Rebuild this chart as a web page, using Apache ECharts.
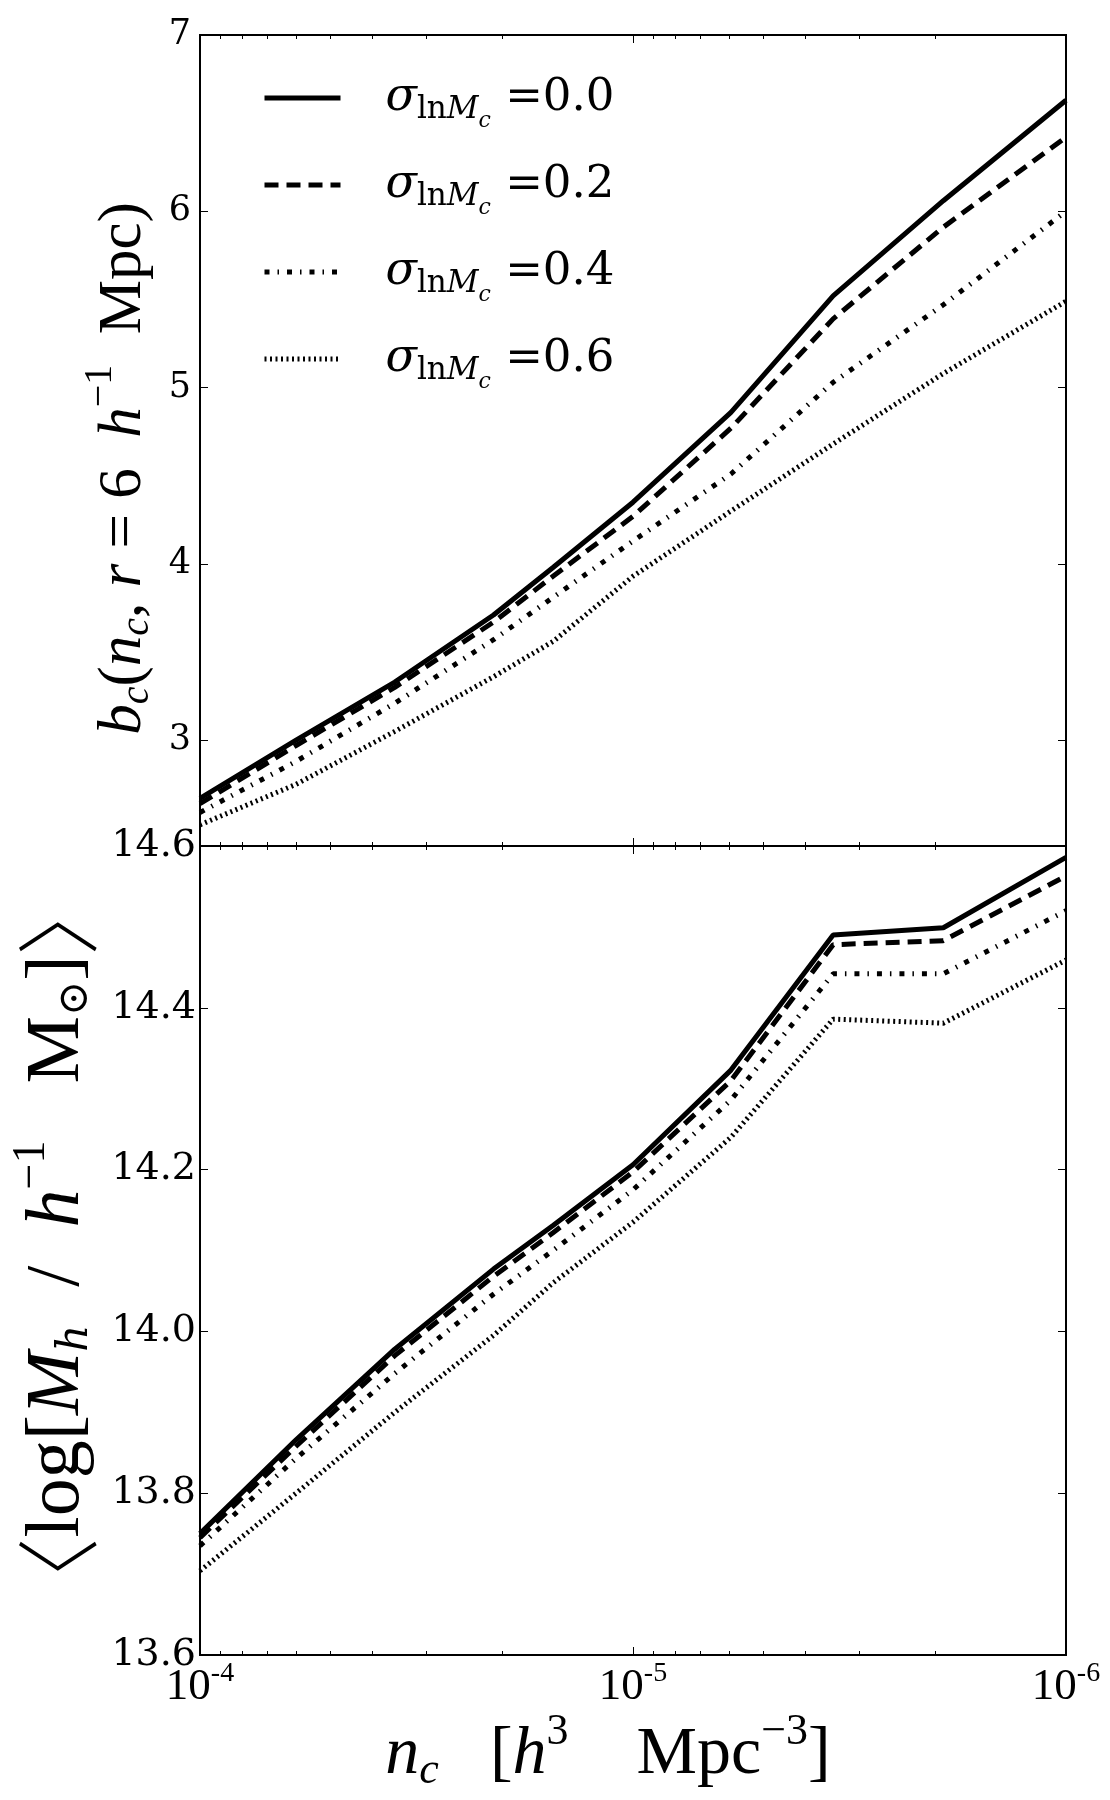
<!DOCTYPE html>
<html>
<head>
<meta charset="utf-8">
<script src="https://cdn.jsdelivr.net/npm/echarts@6/dist/echarts.min.js"></script>
<style>
  html, body { margin: 0; padding: 0; background: #fff; }
  #main { width: 1110px; height: 1800px; }
</style>
</head>
<body>
<div id="main"></div>
<script>
// number density of clusters, h^3 Mpc^-3
var nc = [1e-4, 6.0e-5, 3.55e-5, 2.1e-5, 1.53e-5, 1.0e-5, 5.94e-6, 3.45e-6, 1.92e-6, 1e-6]

// top panel: bias b_c
var bias00 = [2.67, 3.00, 3.33, 3.71, 3.98, 4.35, 4.86, 5.52, 6.06, 6.63]
var bias02 = [2.64, 2.97, 3.30, 3.67, 3.93, 4.27, 4.77, 5.39, 5.91, 6.42]
var bias04 = [2.59, 2.88, 3.21, 3.57, 3.81, 4.13, 4.51, 5.03, 5.47, 6.00]
var bias06 = [2.52, 2.75, 3.05, 3.36, 3.56, 3.93, 4.30, 4.68, 5.08, 5.49]

// bottom panel: mean log halo mass
var mass00 = [13.750, 13.866, 13.978, 14.077, 14.131, 14.206, 14.323, 14.490, 14.499, 14.586]
var mass02 = [13.745, 13.858, 13.970, 14.068, 14.122, 14.197, 14.310, 14.478, 14.483, 14.563]
var mass04 = [13.735, 13.843, 13.948, 14.046, 14.100, 14.175, 14.286, 14.442, 14.442, 14.520]
var mass06 = [13.704, 13.800, 13.900, 13.995, 14.060, 14.135, 14.240, 14.386, 14.381, 14.459]

var sigmaNames = ['0.0', '0.2', '0.4', '0.6']
var majorX = [1e-6, 1e-5, 1e-4]
var biasTicks = [3, 4, 5, 6, 7]
var massTicks = [13.6, 13.8, 14.0, 14.2, 14.4, 14.6]

var minorX = []
for (var d = -6; d < -4; d++) {
  for (var k = 2; k < 10; k++) {
    minorX.push(k * Math.pow(10, d))
  }
}

var serif = 'Liberation Serif'
var dejavu = 'DejaVu Serif'
var black = '#000'

var lineStyles = [
  { width: 5, type: 'solid' },
  { width: 5, type: [14, 8] },
  { width: 5, type: [5, 8, 1.5, 8] },
  { width: 5, type: [2, 3.5] }
]

function pairs(ys) {
  var out = []
  for (var i = 0; i < nc.length; i++) {
    out.push([nc[i], ys[i]])
  }
  return out
}

function xAxisOf(grid, position, ticks, tickLen, withLabel) {
  var ax = {
    type: 'log',
    logBase: 10,
    gridIndex: grid,
    position: position,
    min: 1e-6,
    max: 1e-4,
    inverse: true,
    axisLine: { onZero: false, lineStyle: { color: black, width: 2 } },
    axisTick: { show: true, inside: true, length: tickLen, customValues: ticks, lineStyle: { color: black, width: 1 } },
    axisLabel: { show: false },
    splitLine: { show: false }
  }
  if (withLabel) {
    ax.axisLabel = {
      show: true,
      customValues: majorX,
      margin: 5,
      color: black,
      formatter: function (v) {
        var e = Math.round(Math.log10(v))
        return '{b|10}{e|' + e + '}'
      },
      rich: {
        b: { fontFamily: serif, fontSize: 45, color: black },
        e: { fontFamily: serif, fontSize: 28, color: black, padding: [0, 0, 26, 0] }
      }
    }
    ax.name = '{i|n}{sb|c}{r|   [}{i|h}{sp|3}{r|    Mpc}{sp|\u22123}{r|]}'
    ax.nameLocation = 'middle'
    ax.nameGap = 50
    ax.nameTextStyle = {
      color: black,
      padding: [0, 50, 0, 0],
      rich: {
        i: { fontFamily: serif, fontStyle: 'italic', fontSize: 68, color: black },
        r: { fontFamily: serif, fontSize: 68, color: black },
        sb: { fontFamily: serif, fontStyle: 'italic', fontSize: 44, color: black, padding: [32, 0, 0, 0] },
        sp: { fontFamily: serif, fontSize: 44, color: black, padding: [0, 0, 46, 0] }
      }
    }
  }
  return ax
}

function yAxisOf(grid, position, min, max, ticks, withLabel) {
  var ax = {
    type: 'value',
    gridIndex: grid,
    position: position,
    min: min,
    max: max,
    axisLine: { show: true, onZero: false, lineStyle: { color: black, width: 2 } },
    axisTick: { show: true, inside: true, length: 8, customValues: ticks, lineStyle: { color: black, width: 1 } },
    axisLabel: { show: false },
    splitLine: { show: false }
  }
  if (withLabel) {
    ax.axisLabel = {
      show: true,
      customValues: ticks,
      margin: grid === 0 ? 9 : 4,
      color: black,
      fontFamily: dejavu,
      fontSize: grid === 0 ? 35 : 38,
      formatter: function (v) {
        return grid === 0 ? String(Math.round(v)) : v.toFixed(1)
      }
    }
  }
  return ax
}

var xAxes = [
  xAxisOf(0, 'bottom', majorX, 8, false),
  xAxisOf(0, 'top', majorX, 8, false),
  xAxisOf(0, 'bottom', minorX, 4, false),
  xAxisOf(0, 'top', minorX, 4, false),
  xAxisOf(1, 'bottom', majorX, 8, true),
  xAxisOf(1, 'top', majorX, 8, false),
  xAxisOf(1, 'bottom', minorX, 4, false),
  xAxisOf(1, 'top', minorX, 4, false)
]

var yAxes = [
  yAxisOf(0, 'left', 2.4, 7, biasTicks, true),
  yAxisOf(0, 'right', 2.4, 7, biasTicks, false),
  yAxisOf(1, 'left', 13.6, 14.6, massTicks, true),
  yAxisOf(1, 'right', 13.6, 14.6, massTicks, false)
]

yAxes[0].name = '{i|b}{sb|c}{r|(}{i|n}{sb|c}{r|, }{i|r}{r| = 6  }{i|h}{sp|\u22121}{r|  Mpc)}'
yAxes[0].nameLocation = 'middle'
yAxes[0].nameGap = 24
yAxes[0].nameRotate = 90
yAxes[0].nameTextStyle = {
  color: black,
  padding: [0, 56, 0, 0],
  rich: {
    i: { fontFamily: serif, fontStyle: 'italic', fontSize: 61, color: black },
    r: { fontFamily: serif, fontSize: 61, color: black },
    sb: { fontFamily: serif, fontStyle: 'italic', fontSize: 40, color: black, padding: [28, 0, 0, 0] },
    sp: { fontFamily: serif, fontSize: 40, color: black, padding: [0, 0, 46, 0] }
  }
}

yAxes[2].name = '{a|\u3008}{r|log[}{i|M}{sb|h}{r|  /  }{i|h}{sp|\u22121}{r|   M}{sb|\u2299}{r|]}{a|\u3009}'
yAxes[2].nameLocation = 'middle'
yAxes[2].nameGap = 22
yAxes[2].nameRotate = 90
yAxes[2].nameTextStyle = {
  color: black,
  padding: [0, 0, 0, 8],
  rich: {
    a: { fontFamily: 'Noto Sans CJK JP', fontWeight: 300, fontSize: 84, color: black },
    i: { fontFamily: serif, fontStyle: 'italic', fontSize: 76, color: black },
    r: { fontFamily: serif, fontSize: 76, color: black },
    sb: { fontFamily: dejavu, fontStyle: 'italic', fontSize: 42, color: black, padding: [36, 0, 0, 0] },
    sp: { fontFamily: serif, fontSize: 46, color: black, padding: [0, 0, 54, 0] }
  }
}

var series = []
var topData = [bias00, bias02, bias04, bias06]
var botData = [mass00, mass02, mass04, mass06]
for (var s = 0; s < 4; s++) {
  var ls = { color: black, width: lineStyles[s].width, type: lineStyles[s].type, cap: 'butt' }
  series.push({
    name: sigmaNames[s],
    type: 'line',
    color: black,
    xAxisIndex: 0,
    yAxisIndex: 0,
    data: pairs(topData[s]),
    symbol: 'none',
    showSymbol: false,
    silent: true,
    lineStyle: ls
  })
  series.push({
    name: sigmaNames[s],
    type: 'line',
    color: black,
    xAxisIndex: 4,
    yAxisIndex: 2,
    data: pairs(botData[s]),
    symbol: 'none',
    showSymbol: false,
    silent: true,
    lineStyle: ls
  })
}

var option = {
  backgroundColor: '#fff',
  animation: false,
  grid: [
    { left: 200, right: 44, top: 35, height: 811 },
    { left: 200, right: 44, top: 846, height: 809 }
  ],
  legend: {
    data: sigmaNames,
    orient: 'vertical',
    left: 257,
    top: 70,
    itemWidth: 76,
    itemHeight: 20,
    itemGap: 30,
    selectedMode: false,
    itemStyle: { opacity: 0 },
    lineStyle: { width: 5, opacity: 1 },
    formatter: function (name) {
      return '{s|\u03c3}{l|ln}{m|M}{c|c}{v| =' + name + '}'
    },
    textStyle: {
      color: black,
      padding: [0, 0, 0, 40],
      rich: {
        s: { fontFamily: dejavu, fontStyle: 'italic', fontSize: 46, color: black },
        l: { fontFamily: dejavu, fontSize: 31, color: black, padding: [24, 0, 0, 0] },
        m: { fontFamily: dejavu, fontStyle: 'italic', fontSize: 31, color: black, padding: [24, 0, 0, 0] },
        c: { fontFamily: dejavu, fontStyle: 'italic', fontSize: 22, color: black, padding: [46, 0, 0, 0] },
        v: { fontFamily: dejavu, fontSize: 45, color: black }
      }
    }
  },
  xAxis: xAxes,
  yAxis: yAxes,
  series: series
}

var chart = echarts.init(document.getElementById('main'), null, { renderer: 'canvas' })
chart.setOption(option)
</script>
</body>
</html>
